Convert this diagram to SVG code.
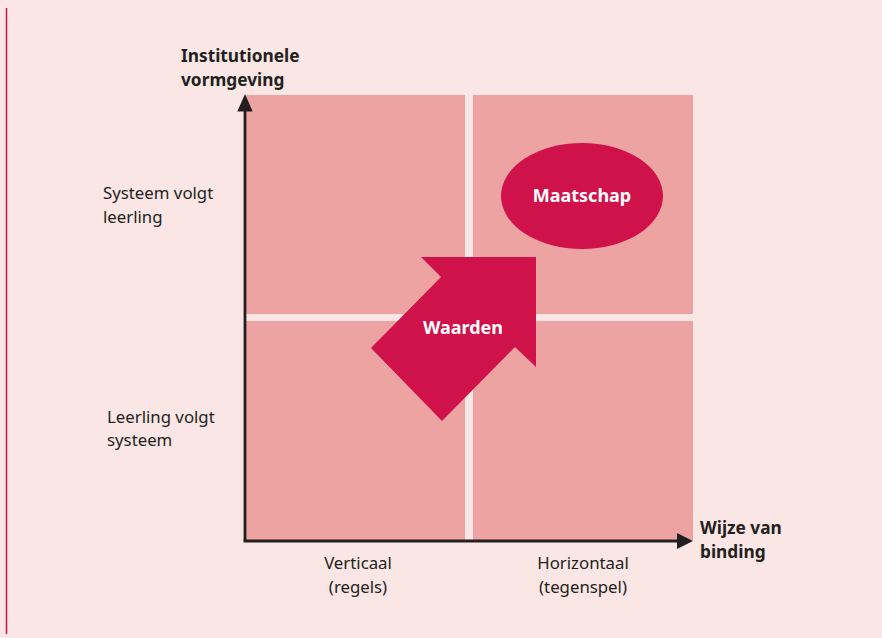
<svg xmlns="http://www.w3.org/2000/svg" width="882" height="638" viewBox="0 0 882 638">
<style>
.q{fill:#EDA3A2}
.t{font-family:"Noto Sans","Open Sans",sans-serif;font-size:16.8px;fill:#231F20}
.b{font-weight:bold;font-size:17.3px}
.w{font-family:"Noto Sans","Open Sans",sans-serif;font-size:18px;font-weight:bold;fill:#fff}
.ax{stroke:#231F20;stroke-width:2.8;fill:none}
.ah{fill:#231F20}
</style>
<rect width="882" height="638" fill="#FAE6E4"/>
<line x1="6.5" y1="8" x2="6.5" y2="634" stroke="#D0124A" stroke-width="1.5"/>
<g id="quadrants">
<rect class="q" x="246" y="95" width="219" height="219"/>
<rect class="q" x="473" y="95" width="220" height="219"/>
<rect class="q" x="246" y="321" width="219" height="219"/>
<rect class="q" x="473" y="321" width="220" height="219"/>
</g>
<g id="connectors">
<path class="ax" d="M245,541 L245,108"/>
<polygon class="ah" points="245,94 252.7,111.5 237.3,111.5"/>
<path class="ax" d="M243.6,541 L680,541"/>
<polygon class="ah" points="693,541 677,533 677,549"/>
</g>
<g id="waarden">
<polygon points="421,257 536,257 536,367 515,347 442,421 371,348 441,277" fill="#D0124A"/>
<text class="w" x="463" y="334" text-anchor="middle">Waarden</text>
</g>
<g id="maatschap">
<ellipse cx="582" cy="196" rx="81" ry="53" fill="#D0124A"/>
<text class="w" x="582" y="202" text-anchor="middle">Maatschap</text>
</g>
<g id="labels">
<text class="t b" x="181" y="62">Institutionele</text>
<text class="t b" x="181" y="86">vormgeving</text>
<text class="t" x="103" y="199">Systeem volgt</text>
<text class="t" x="103" y="223">leerling</text>
<text class="t" x="107" y="423">Leerling volgt</text>
<text class="t" x="107" y="446">systeem</text>
<text class="t" x="358" y="569" text-anchor="middle">Verticaal</text>
<text class="t" x="358" y="593" text-anchor="middle">(regels)</text>
<text class="t" x="583" y="569" text-anchor="middle">Horizontaal</text>
<text class="t" x="583" y="593" text-anchor="middle">(tegenspel)</text>
<text class="t b" x="700" y="534">Wijze van</text>
<text class="t b" x="700" y="558">binding</text>
</g>
</svg>
